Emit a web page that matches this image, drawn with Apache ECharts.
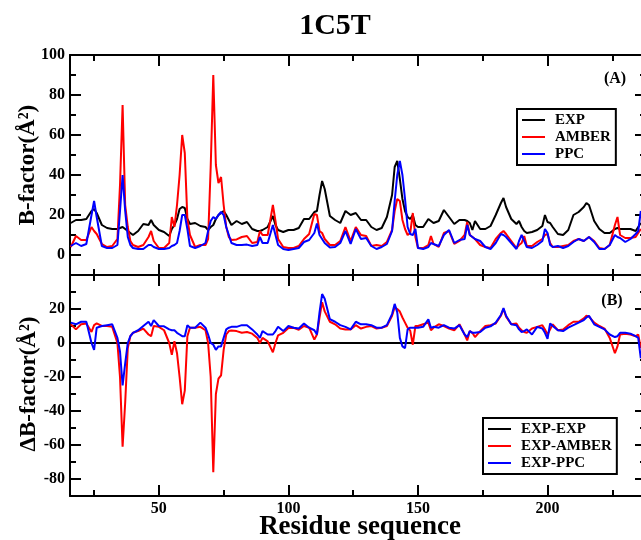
<!DOCTYPE html>
<html>
<head>
<meta charset="utf-8">
<script src="https://cdn.jsdelivr.net/npm/echarts@6/dist/echarts.min.js"></script>
<style>
  html, body { margin: 0; padding: 0; background: #fff; }
  #chart { width: 641px; height: 540px; }
</style>
</head>
<body>
<div id="chart"></div>
<script>
const residues = [
  16, 18, 20, 22, 24, 25, 26, 28, 30, 32,
  34, 35, 36, 37, 38, 39, 40, 42, 44, 46,
  47, 48, 50, 52, 54, 55, 56, 57, 58, 59,
  60, 61, 62, 64, 66, 68, 69, 70, 71, 72,
  73, 74, 75, 76, 77, 78, 80, 82, 84, 86,
  88, 89, 90, 92, 94, 95, 96, 98, 100, 102,
  104, 106, 108, 110, 111, 112, 113, 114, 116, 118,
  120, 122, 124, 126, 128, 130, 132, 134, 136, 138,
  140, 141, 142, 143, 144, 145, 146, 147, 148, 149,
  150, 152, 154, 155, 156, 158, 160, 162, 164, 166,
  168, 169, 170, 171, 172, 174, 176, 178, 180, 182,
  183, 184, 186, 188, 189, 190, 191, 192, 194, 196,
  198, 199, 200, 201, 202, 204, 206, 208, 210, 212,
  214, 215, 216, 218, 220, 222, 224, 226, 227, 228,
  230, 232, 234, 235, 236
];

// panel (A): B-factors
const expB = [
  16, 17.5, 17.5, 18, 22, 23, 21, 15, 13.5, 13,
  13, 13.5, 14, 13, 12, 11, 10, 12, 15.5, 15,
  17.5, 15, 12.5, 11.5, 9.5, 13, 15, 18, 23, 24,
  23.5, 18, 15.5, 16, 14.5, 14, 12.5, 14, 15, 18,
  20, 21, 22, 20, 17.5, 15, 17, 15.5, 16.5, 13,
  12, 12, 12.5, 14, 19.5, 15, 12.5, 11.5, 12.5, 12.5,
  13.5, 18, 18, 21.5, 22, 30, 37, 33, 19.5, 17.5,
  16, 22, 20, 21, 17.5, 17.5, 14, 12.5, 13.5, 19,
  30, 44, 47, 38, 28, 22, 19, 18, 20, 15,
  14, 14, 18, 17, 16, 17, 22.5, 19, 15.5, 17.5,
  17.5, 17, 16, 12.5, 17, 13, 13, 14.5, 20, 26,
  28.5, 24, 18, 15.5, 17, 14, 12, 11, 11.5, 12.5,
  14.5, 20, 16.5, 16, 14, 10.5, 10, 12.5, 20, 21.5,
  24, 26, 25, 17, 13, 11, 11, 13, 13.5, 13,
  13, 13, 12, 14, 16
];
const amberB = [
  4, 9.5, 7.5, 7.5, 14, 12, 10.5, 5.5, 4, 4.5,
  8, 35, 75, 25, 14, 7, 5, 4, 5, 9,
  12, 7, 3.5, 3.5, 6, 19, 14, 25, 40, 60,
  51, 18, 10, 4, 5, 5, 8, 44, 90, 45,
  36, 39, 25, 14, 9, 7.5, 7.8, 9, 9.5, 6,
  6.5, 12, 10, 10, 25, 17, 8, 4, 3.5, 3.5,
  4.5, 8, 10.5, 20.5, 20, 12, 11, 8, 5, 5,
  7, 14, 7, 14, 10, 9.5, 4.5, 5, 4.5, 6.5,
  12.5, 22, 28, 27, 17.5, 13, 10, 11, 21, 9,
  3.5, 3.5, 5, 9.5, 5.5, 4, 11, 12, 5.5, 7,
  10, 16.5, 10, 9, 8, 5, 4, 3.5, 8, 11,
  12, 10.5, 7, 3.5, 5, 6, 9.5, 4.5, 4.5, 6.5,
  8, 10, 10.5, 6, 4, 4, 4.5, 5, 7, 8,
  7, 8, 9, 7, 3.5, 3, 5, 15, 19, 10,
  8.5, 8.5, 9, 11, 13
];
const ppcB = [
  4.5, 6, 4.5, 5.5, 20, 27, 19, 4.5, 3.5, 3.5,
  5, 22, 40, 22, 9, 5, 3.5, 3, 3, 5,
  5, 4, 3, 3, 3.5, 4.5, 5, 6, 12, 20,
  20, 13, 4.5, 3.5, 4.5, 6, 12, 17, 19, 18,
  20, 21.5, 20, 14, 10, 6, 5, 5, 5.2, 4.5,
  5, 9, 6, 6, 15, 10, 5, 3, 2.5, 3,
  3.5, 6.5, 7.5, 11, 15.8, 10, 8, 6, 3.8, 4,
  6, 12, 5.5, 13, 8, 8.5, 4.5, 3, 4, 5.5,
  12, 27, 40, 47, 40, 28, 14, 10.5, 10, 13,
  3.5, 3, 4, 6, 5.5, 4.5, 10, 12.5, 6, 7.5,
  8, 15, 10, 9, 8, 7, 4, 3, 6, 10.5,
  10, 9, 6, 3, 7, 10, 7, 4, 3.5, 5,
  7, 13, 11, 5, 4, 4.5, 3.5, 4.5, 6.5, 8,
  7, 8, 9, 6.5, 3, 3, 5, 10, 9, 8.5,
  6.5, 8, 10.5, 12, 22
];

// panel (B): differences
const expExpResidues = [16, 236];
const expExpValues = [0, 0];
const dAmber = [
  11, 8, 11, 11.5, 6.5, 10.5, 11.5, 10, 10, 9.5,
  0, -20, -61, -35, -3, 4, 6, 7, 8.5, 5,
  4, 10, 9.5, 7.5, 0, -7, 1, -6, -20, -36,
  -28, 4, 9, 9, 9.5, 7.5, 0, -20, -76, -30,
  -21, -19, -4, 5, 7, 7.3, 7, 6, 6.5, 5.5,
  3, 0, 3, 1, -5.5, 0, 4.5, 6, 8.8, 9,
  7.8, 10, 9, 2, 5, 15, 24, 18.6, 12.5, 11,
  8.5, 8, 8, 10.5, 8.5, 9.5, 10, 8.5, 9, 10,
  16, 21, 20, 18.5, 15, 12, 9, 7.3, -1, 10,
  10, 11, 12, 7.5, 9, 11, 10, 8.5, 7.5, 11,
  5, 1.5, 7, 6, 3.5, 7, 10, 10.5, 11.5, 16,
  20, 15.5, 11, 11.5, 9, 7.5, 6.5, 6, 8.5, 9.5,
  10.5, 8, 5, 8, 11, 7.5, 8, 10.5, 12.5, 12.5,
  14.5, 16, 15.5, 12, 10, 8.5, 3, -6, -2, 5,
  5.5, 5, 4, 5, -3
];
const dPpc = [
  12, 11, 12.5, 12.5, 0, -4, 9, 10, 10.5, 11,
  3, -5, -25, -12, 0, 4, 6, 7.5, 10, 12.5,
  10, 13.5, 10, 9.8, 8, 7.5, 7.5, 6, 5, 4,
  4, 10.5, 9, 9, 12, 9, 5, 0, -1, -4,
  -2, -2, 3, 8, 9, 9.5, 9.5, 10.5, 10.5, 8,
  5, 3, 7, 5, 5, 7, 9.5, 7, 10, 9,
  8.5, 11.5, 9, 7.5, 5, 18, 28.8, 26, 14, 12.5,
  10.5, 9.5, 8, 12.5, 11, 11, 10.5, 9, 9, 10.5,
  17, 23, 18, 3, -2, -3, 8, 9, 9, 9,
  9, 9.5, 14, 9, 9.5, 9, 10.5, 9, 8.5, 10.5,
  5, 3.5, 7, 6, 6, 6.5, 9, 9.8, 12, 16.5,
  20.5, 16, 11, 10.5, 8, 6.5, 7, 8, 5, 9.5,
  8.5, 6, 2.5, 11.5, 10, 7.5, 7, 9, 10.5, 12,
  13.5, 15, 16, 11, 9.5, 8, 5, 3.5, 4, 6,
  6, 5.5, 4, 3, -9
];

// ticks
const xMajor = [50, 100, 150, 200];
const xMinor = [25, 75, 125, 175, 225];
const yTopMajor = [0, 20, 40, 60, 80, 100];
const yTopMinor = [10, 30, 50, 70, 90];
const yBotMajor = [-80, -60, -40, -20, 0, 20];
const yBotMinor = [-70, -50, -30, -10, 10, 30];

const SERIF = '"Liberation Serif", "DejaVu Serif", serif';
const X_MIN = 15.7, X_MAX = 238;

const pairs = (xs, ys) => xs.map((x, i) => [x, ys[i]]);

// one axis = one side of a frame with one kind of tick (major or minor)
function tickAxis(gridIndex, position, min, max, ticks, len, labels) {
  return {
    type: 'value',
    gridIndex,
    position,
    min,
    max,
    splitLine: { show: false },
    axisLine: { show: len > 8, onZero: false, lineStyle: { color: '#000', width: 2 } },
    axisTick: {
      show: true,
      inside: true,
      length: len,
      customValues: ticks,
      lineStyle: { color: '#000', width: 2 },
    },
    axisLabel: labels
      ? {
          show: true,
          customValues: labels,
          margin: 5,
          color: '#000',
          fontFamily: SERIF,
          fontWeight: 'bold',
          fontSize: 16,
        }
      : { show: false },
  };
}

function xFrame(gridIndex, withLabels) {
  return [
    tickAxis(gridIndex, 'bottom', X_MIN, X_MAX, xMajor, 11, withLabels ? xMajor : null),
    tickAxis(gridIndex, 'bottom', X_MIN, X_MAX, xMinor, 6, null),
    tickAxis(gridIndex, 'top', X_MIN, X_MAX, xMajor, 11, null),
    tickAxis(gridIndex, 'top', X_MIN, X_MAX, xMinor, 6, null),
  ];
}

function yFrame(gridIndex, min, max, major, minor) {
  return [
    tickAxis(gridIndex, 'left', min, max, major, 11, major),
    tickAxis(gridIndex, 'left', min, max, minor, 6, null),
    tickAxis(gridIndex, 'right', min, max, major, 11, null),
    tickAxis(gridIndex, 'right', min, max, minor, 6, null),
  ];
}

const lineSeries = (name, color, xi, data) => ({
  name,
  type: 'line',
  xAxisIndex: xi,
  yAxisIndex: xi,
  data,
  symbol: 'none',
  lineStyle: { color, width: 2 },
  itemStyle: { color },
  clip: true,
});

const legendBase = {
  orient: 'vertical',
  icon: 'rect',
  itemWidth: 23,
  itemHeight: 2,
  itemGap: 1,
  padding: [3, 5, 3, 5],
  borderColor: '#000',
  borderWidth: 2,
  borderRadius: 0,
  selectedMode: false,
  textStyle: {
    fontFamily: SERIF,
    fontWeight: 'bold',
    fontSize: 15,
    color: '#000',
    lineHeight: 16,
    padding: [0, 0, 0, 5],
  },
};

const chart = echarts.init(document.getElementById('chart'));

chart.setOption({
  animation: false,
  backgroundColor: '#fff',
  grid: [
    { left: 70, top: 55, width: 576, height: 220, outerBoundsMode: 'none' },
    { left: 70, top: 275, width: 576, height: 221, outerBoundsMode: 'none' },
  ],
  xAxis: [...xFrame(0, false), ...xFrame(1, true)],
  yAxis: [
    ...yFrame(0, -10, 100, yTopMajor, yTopMinor),
    ...yFrame(1, -90, 40, yBotMajor, yBotMinor),
  ],
  legend: [
    { ...legendBase, data: ['EXP', 'AMBER', 'PPC'], left: 517, top: 109 },
    { ...legendBase, data: ['EXP-EXP', 'EXP-AMBER', 'EXP-PPC'], left: 483, top: 418 },
  ],
  graphic: [
    {
      type: 'text', x: 335, y: 26,
      style: { text: '1C5T', font: `bold 30px ${SERIF}`, textAlign: 'center', textVerticalAlign: 'middle', fill: '#000' },
    },
    {
      type: 'text', x: 28, y: 165, rotation: Math.PI / 2,
      style: { text: 'B-factor(Å²)', font: `bold 23px ${SERIF}`, textAlign: 'center', textVerticalAlign: 'middle', fill: '#000' },
    },
    {
      type: 'text', x: 29, y: 384, rotation: Math.PI / 2,
      style: { text: 'ΔB-factor(Å²)', font: `bold 23px ${SERIF}`, textAlign: 'center', textVerticalAlign: 'middle', fill: '#000' },
    },
    {
      type: 'text', x: 360, y: 527,
      style: { text: 'Residue sequence', font: `bold 27px ${SERIF}`, textAlign: 'center', textVerticalAlign: 'middle', fill: '#000' },
    },
    {
      type: 'text', x: 615, y: 79,
      style: { text: '(A)', font: `bold 16px ${SERIF}`, textAlign: 'center', textVerticalAlign: 'middle', fill: '#000' },
    },
    {
      type: 'text', x: 612, y: 301,
      style: { text: '(B)', font: `bold 16px ${SERIF}`, textAlign: 'center', textVerticalAlign: 'middle', fill: '#000' },
    },
  ],
  series: [
    lineSeries('EXP', '#000', 0, pairs(residues, expB)),
    lineSeries('AMBER', '#ff0000', 0, pairs(residues, amberB)),
    lineSeries('PPC', '#0000ff', 0, pairs(residues, ppcB)),
    lineSeries('EXP-EXP', '#000', 4, pairs(expExpResidues, expExpValues)),
    lineSeries('EXP-AMBER', '#ff0000', 4, pairs(residues, dAmber)),
    lineSeries('EXP-PPC', '#0000ff', 4, pairs(residues, dPpc)),
  ],
});
</script>
</body>
</html>
